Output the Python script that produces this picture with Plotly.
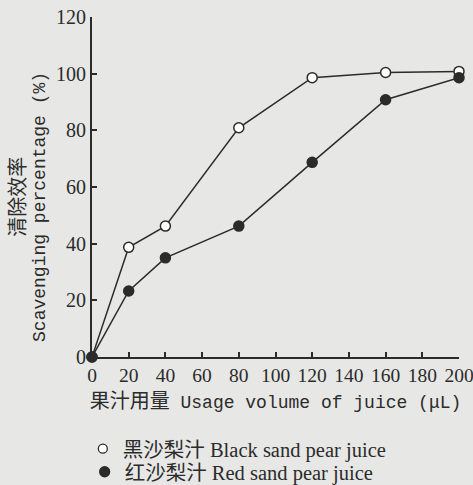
import plotly.graph_objects as go

volume = [0, 20, 40, 80, 120, 160, 200]
black_pear = [0, 38.7, 46.2, 80.9, 98.6, 100.4, 100.8]
red_pear = [0, 23.3, 35.0, 46.2, 68.7, 90.8, 98.6]
x_ticks = [0, 20, 40, 60, 80, 100, 120, 140, 160, 180, 200]
y_ticks = [0, 20, 40, 60, 80, 100, 120]
series_names = ["黑沙梨汁 Black sand pear juice", "红沙梨汁 Red sand pear juice"]

ink = "#2b2b2b"
bg = "#e7e7e5"
serif = "Liberation Serif, Noto Sans CJK SC, serif"
mono = "Liberation Mono, Noto Sans CJK SC, monospace"

fig = go.Figure()
fig.add_trace(go.Scatter(
    x=volume, y=black_pear, mode="lines+markers", showlegend=False,
    line=dict(color=ink, width=1.5),
    marker=dict(symbol="circle", size=10, color="white", line=dict(color=ink, width=1.5)),
    cliponaxis=False))
fig.add_trace(go.Scatter(
    x=volume, y=red_pear, mode="lines+markers", showlegend=False,
    line=dict(color=ink, width=1.5),
    marker=dict(symbol="circle", size=10, color=ink, line=dict(color=ink, width=1.5)),
    cliponaxis=False))
# legend-only entries (markers only, as in the reference)
fig.add_trace(go.Scatter(
    x=[None], y=[None], mode="markers", name=series_names[0], legend="legend",
    marker=dict(symbol="circle", size=9, color="white", line=dict(color=ink, width=1.3))))
fig.add_trace(go.Scatter(
    x=[None], y=[None], mode="markers", name=series_names[1], legend="legend2",
    marker=dict(symbol="circle", size=10, color=ink, line=dict(color=ink, width=1.3))))

leg_common = dict(xanchor="left", yanchor="middle", bgcolor="rgba(0,0,0,0)",
                  itemwidth=30, font=dict(family=serif, size=20.5, color=ink))

fig.update_layout(
    width=473, height=485,
    margin=dict(l=92, r=14, t=17, b=128, autoexpand=False),
    paper_bgcolor=bg, plot_bgcolor=bg,
    font=dict(family=serif, size=20, color=ink),
    legend=dict(x=-0.025, y=-0.27, **leg_common),
    legend2=dict(x=-0.02, y=-0.338, **leg_common),
    xaxis=dict(range=[0, 200], tickvals=x_ticks, ticks="inside", ticklen=5,
               tickwidth=1.5, tickcolor=ink, showline=True, linecolor=ink,
               linewidth=2, showgrid=False, zeroline=False,
               ticklabeloverflow="allow",
               tickfont=dict(family=serif, size=19.5, color=ink),
               title=dict(text='<span style="font-size:20px">果汁用量</span> Usage volume of juice (μL)',
                          font=dict(family=mono, size=18, color=ink), standoff=10)),
    yaxis=dict(range=[0, 120], tickvals=y_ticks, ticks="inside", ticklen=5,
               tickwidth=1.5, tickcolor=ink, showline=True, linecolor=ink,
               linewidth=2, showgrid=False, zeroline=False,
               tickfont=dict(family=serif, size=20, color=ink)),
)

fig.add_annotation(text="清除效率", textangle=-90, xref="paper", yref="paper",
                   x=-0.2, y=0.47, xanchor="center", yanchor="middle", showarrow=False,
                   font=dict(family=serif, size=20, color=ink))
fig.add_annotation(text="Scavenging percentage (%)", textangle=-90, xref="paper", yref="paper",
                   x=-0.142, y=0.441, xanchor="center", yanchor="middle", showarrow=False,
                   font=dict(family=mono, size=18, color=ink))

fig.write_html("out.html", config={"displayModeBar": False},
               post_script="document.body.style.margin='0';document.body.style.background='%s';" % bg)
